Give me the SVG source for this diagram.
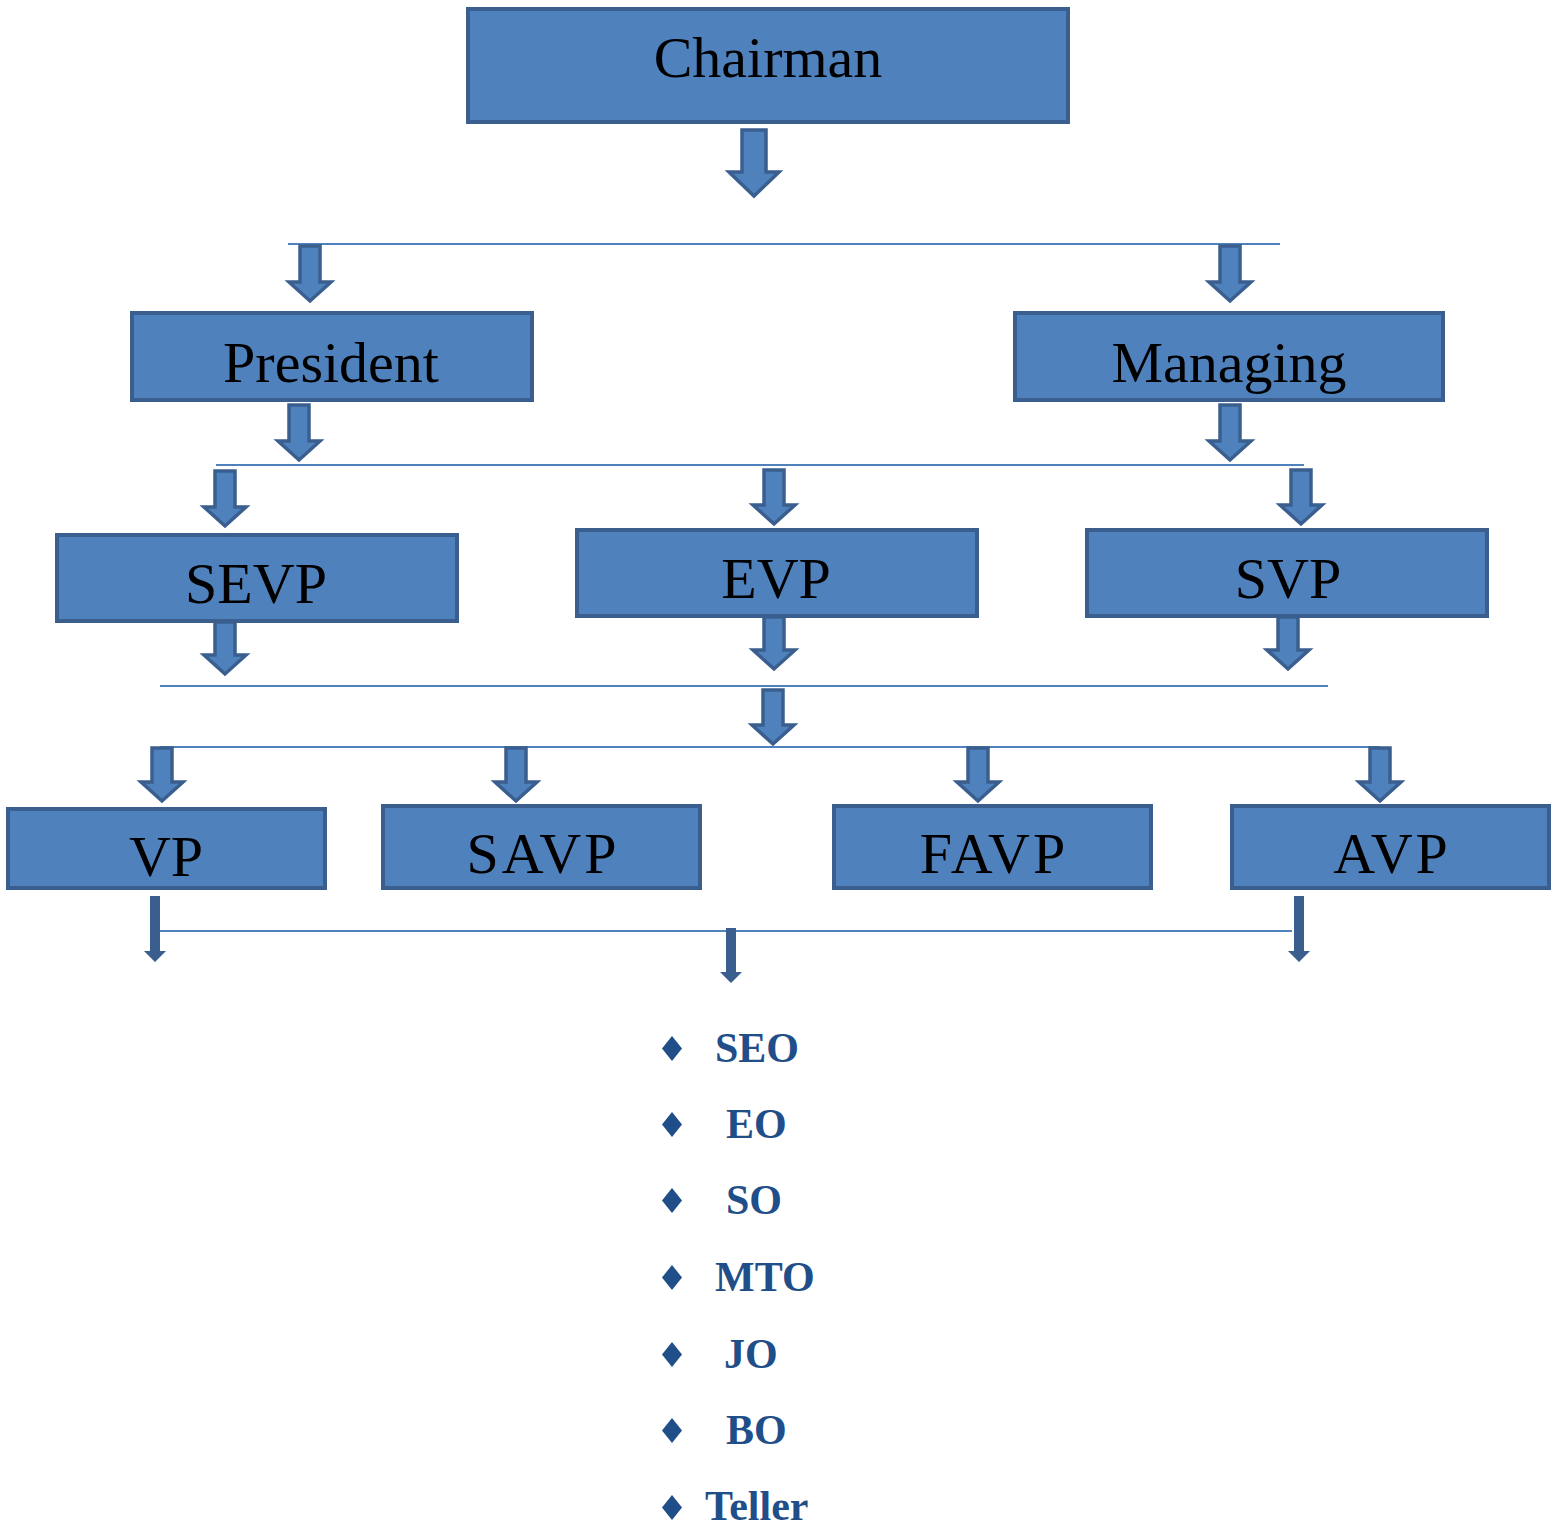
<svg xmlns="http://www.w3.org/2000/svg" width="1556" height="1526" viewBox="0 0 1556 1526">
<style>
.box{fill:#4F81BD;stroke:#3A5F8F;stroke-width:4}
.lbl{font-family:"Liberation Serif","Times New Roman",serif;font-size:58px;fill:#000;text-anchor:middle}
.sp{letter-spacing:3px}
.ba{fill:#4F81BD;stroke:#3A5F8F;stroke-width:3.5;stroke-linejoin:miter}
.ln{stroke:#4F81BD;stroke-width:2;fill:none}
.ta{fill:#3A5F8F}
.li{font-family:"Liberation Serif","Times New Roman",serif;font-size:42px;font-weight:bold;fill:#1F4E89}
.dm{fill:#1F4E89}
</style>
<rect width="1556" height="1526" fill="#fff"/>
<g id="connectors">
<line class="ln" x1="288" y1="244" x2="1280" y2="244"/>
<line class="ln" x1="216" y1="465" x2="1304" y2="465"/>
<line class="ln" x1="160" y1="686" x2="1328" y2="686"/>
<line class="ln" x1="160" y1="747" x2="1380" y2="747"/>
<line class="ln" x1="155" y1="931" x2="1292" y2="931"/>
<path class="ba" d="M742 130H766V172H779L754 196L729 172H742Z"/>
<path class="ba" d="M300 246H320V282H331L310 301L289 282H300Z"/>
<path class="ba" d="M1220 246H1240V282H1251L1230 301L1209 282H1220Z"/>
<path class="ba" d="M289 405H309V441H320L299 460L278 441H289Z"/>
<path class="ba" d="M1220 405H1240V441H1251L1230 460L1209 441H1220Z"/>
<path class="ba" d="M215 471H235V507H246L225 526L204 507H215Z"/>
<path class="ba" d="M764 470H784V505H795L774 524L753 505H764Z"/>
<path class="ba" d="M1291 470H1311V505H1322L1301 524L1280 505H1291Z"/>
<path class="ba" d="M215 622H235V655H246L225 674L204 655H215Z"/>
<path class="ba" d="M764 617H784V650H795L774 669L753 650H764Z"/>
<path class="ba" d="M1278 617H1298V650H1309L1288 669L1267 650H1278Z"/>
<path class="ba" d="M763 690H783V725H794L773 744L752 725H763Z"/>
<path class="ba" d="M152 748H172V782H183L162 801L141 782H152Z"/>
<path class="ba" d="M506 748H526V782H537L516 801L495 782H506Z"/>
<path class="ba" d="M968 748H988V782H999L978 801L957 782H968Z"/>
<path class="ba" d="M1370 748H1390V782H1401L1380 801L1359 782H1370Z"/>
<path class="ta" d="M150 896H160V951H166L155 962L144 951H150Z"/>
<path class="ta" d="M726 928H736V972H742L731 983L720 972H726Z"/>
<path class="ta" d="M1294 896H1304V951H1310L1299 962L1288 951H1294Z"/>
</g>
<g id="chairman"><rect class="box" x="468" y="9" width="600" height="113"/><text class="lbl" x="768" y="77">Chairman</text></g>
<g id="president"><rect class="box" x="132" y="313" width="400" height="87"/><text class="lbl" x="331" y="382">President</text></g>
<g id="managing"><rect class="box" x="1015" y="313" width="428" height="87"/><text class="lbl" x="1229" y="382">Managing</text></g>
<g id="sevp"><rect class="box" x="57" y="535" width="400" height="86"/><text class="lbl" x="256" y="603">SEVP</text></g>
<g id="evp"><rect class="box" x="577" y="530" width="400" height="86"/><text class="lbl" x="776" y="598">EVP</text></g>
<g id="svp"><rect class="box" x="1087" y="530" width="400" height="86"/><text class="lbl" x="1288" y="598">SVP</text></g>
<g id="vp"><rect class="box" x="8" y="809" width="317" height="79"/><text class="lbl" x="166" y="876">VP</text></g>
<g id="savp"><rect class="box" x="383" y="806" width="317" height="82"/><text class="lbl sp" x="543" y="873">SAVP</text></g>
<g id="favp"><rect class="box" x="834" y="806" width="317" height="82"/><text class="lbl sp" x="994" y="873">FAVP</text></g>
<g id="avp"><rect class="box" x="1232" y="806" width="317" height="82"/><text class="lbl sp" x="1392" y="873">AVP</text></g>
<g id="list">
<path class="dm" d="M672 1036L682 1048.5L672 1061L662 1048.5Z"/><text class="li" x="715" y="1062">SEO</text>
<path class="dm" d="M672 1112L682 1124.5L672 1137L662 1124.5Z"/><text class="li" x="726" y="1138">EO</text>
<path class="dm" d="M672 1188L682 1200.5L672 1213L662 1200.5Z"/><text class="li" x="726" y="1214">SO</text>
<path class="dm" d="M672 1265L682 1277.5L672 1290L662 1277.5Z"/><text class="li" x="715" y="1291">MTO</text>
<path class="dm" d="M672 1342L682 1354.5L672 1367L662 1354.5Z"/><text class="li" x="724" y="1368">JO</text>
<path class="dm" d="M672 1418L682 1430.5L672 1443L662 1430.5Z"/><text class="li" x="726" y="1444">BO</text>
<path class="dm" d="M672 1495L682 1507.5L672 1520L662 1507.5Z"/><text class="li" x="705" y="1520">Teller</text>
</g>
</svg>
